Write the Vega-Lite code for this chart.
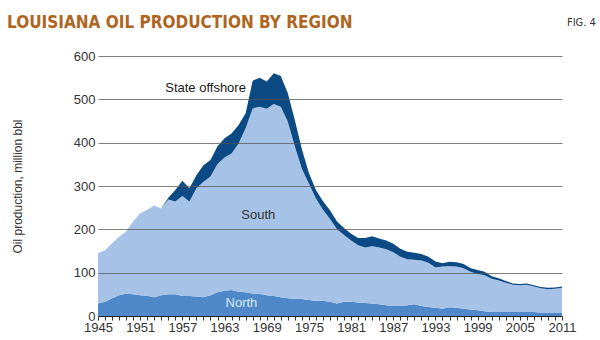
{
  "$schema": "https://vega.github.io/schema/vega-lite/v6.json",
  "width": 464,
  "height": 260,
  "autosize": {"type": "none"},
  "padding": {"left": 98, "top": 56, "right": 38, "bottom": 24},
  "background": "white",
  "title": {
    "text": "LOUISIANA OIL PRODUCTION BY REGION",
    "anchor": "start",
    "frame": "group",
    "font": "DejaVu Sans Condensed",
    "fontWeight": "bold",
    "fontSize": 17,
    "color": "#b0651f",
    "baseline": "alphabetic",
    "dx": -91,
    "offset": -28
  },
  "config": {
    "view": {"stroke": null},
    "axis": {"labelFont": "Liberation Sans", "titleFont": "Liberation Sans", "labelColor": "#333", "titleColor": "#333"},
    "axisX": {"labelOverlap": false}
  },
  "resolve": {"scale": {"color": "independent"}},
  "datasets": {
    "production": [
      {"year":1945,"region":"North","value":29},{"year":1945,"region":"South","value":116},{"year":1945,"region":"State offshore","value":0},
      {"year":1946,"region":"North","value":33},{"year":1946,"region":"South","value":119},{"year":1946,"region":"State offshore","value":0},
      {"year":1947,"region":"North","value":41},{"year":1947,"region":"South","value":127},{"year":1947,"region":"State offshore","value":0},
      {"year":1948,"region":"North","value":48},{"year":1948,"region":"South","value":135},{"year":1948,"region":"State offshore","value":0},
      {"year":1949,"region":"North","value":52},{"year":1949,"region":"South","value":143},{"year":1949,"region":"State offshore","value":0},
      {"year":1950,"region":"North","value":50},{"year":1950,"region":"South","value":168},{"year":1950,"region":"State offshore","value":0},
      {"year":1951,"region":"North","value":48},{"year":1951,"region":"South","value":189},{"year":1951,"region":"State offshore","value":0},
      {"year":1952,"region":"North","value":47},{"year":1952,"region":"South","value":198},{"year":1952,"region":"State offshore","value":0},
      {"year":1953,"region":"North","value":43},{"year":1953,"region":"South","value":212},{"year":1953,"region":"State offshore","value":0},
      {"year":1954,"region":"North","value":48},{"year":1954,"region":"South","value":200},{"year":1954,"region":"State offshore","value":0},
      {"year":1955,"region":"North","value":50},{"year":1955,"region":"South","value":219},{"year":1955,"region":"State offshore","value":4},
      {"year":1956,"region":"North","value":50},{"year":1956,"region":"South","value":214},{"year":1956,"region":"State offshore","value":27},
      {"year":1957,"region":"North","value":46},{"year":1957,"region":"South","value":231},{"year":1957,"region":"State offshore","value":35},
      {"year":1958,"region":"North","value":46},{"year":1958,"region":"South","value":218},{"year":1958,"region":"State offshore","value":31},
      {"year":1959,"region":"North","value":45},{"year":1959,"region":"South","value":250},{"year":1959,"region":"State offshore","value":30},
      {"year":1960,"region":"North","value":43},{"year":1960,"region":"South","value":267},{"year":1960,"region":"State offshore","value":38},
      {"year":1961,"region":"North","value":48},{"year":1961,"region":"South","value":274},{"year":1961,"region":"State offshore","value":38},
      {"year":1962,"region":"North","value":55},{"year":1962,"region":"South","value":296},{"year":1962,"region":"State offshore","value":41},
      {"year":1963,"region":"North","value":58},{"year":1963,"region":"South","value":308},{"year":1963,"region":"State offshore","value":44},
      {"year":1964,"region":"North","value":60},{"year":1964,"region":"South","value":315},{"year":1964,"region":"State offshore","value":46},
      {"year":1965,"region":"North","value":56},{"year":1965,"region":"South","value":342},{"year":1965,"region":"State offshore","value":43},
      {"year":1966,"region":"North","value":55},{"year":1966,"region":"South","value":378},{"year":1966,"region":"State offshore","value":35},
      {"year":1967,"region":"North","value":52},{"year":1967,"region":"South","value":427},{"year":1967,"region":"State offshore","value":64},
      {"year":1968,"region":"North","value":51},{"year":1968,"region":"South","value":432},{"year":1968,"region":"State offshore","value":67},
      {"year":1969,"region":"North","value":48},{"year":1969,"region":"South","value":430},{"year":1969,"region":"State offshore","value":63},
      {"year":1970,"region":"North","value":46},{"year":1970,"region":"South","value":443},{"year":1970,"region":"State offshore","value":71},
      {"year":1971,"region":"North","value":43},{"year":1971,"region":"South","value":440},{"year":1971,"region":"State offshore","value":71},
      {"year":1972,"region":"North","value":41},{"year":1972,"region":"South","value":407},{"year":1972,"region":"State offshore","value":66},
      {"year":1973,"region":"North","value":40},{"year":1973,"region":"South","value":351},{"year":1973,"region":"State offshore","value":61},
      {"year":1974,"region":"North","value":39},{"year":1974,"region":"South","value":301},{"year":1974,"region":"State offshore","value":45},
      {"year":1975,"region":"North","value":37},{"year":1975,"region":"South","value":268},{"year":1975,"region":"State offshore","value":25},
      {"year":1976,"region":"North","value":35},{"year":1976,"region":"South","value":236},{"year":1976,"region":"State offshore","value":20},
      {"year":1977,"region":"North","value":35},{"year":1977,"region":"South","value":210},{"year":1977,"region":"State offshore","value":20},
      {"year":1978,"region":"North","value":33},{"year":1978,"region":"South","value":191},{"year":1978,"region":"State offshore","value":20},
      {"year":1979,"region":"North","value":29},{"year":1979,"region":"South","value":171},{"year":1979,"region":"State offshore","value":18},
      {"year":1980,"region":"North","value":33},{"year":1980,"region":"South","value":154},{"year":1980,"region":"State offshore","value":16},
      {"year":1981,"region":"North","value":33},{"year":1981,"region":"South","value":141},{"year":1981,"region":"State offshore","value":16},
      {"year":1982,"region":"North","value":31},{"year":1982,"region":"South","value":132},{"year":1982,"region":"State offshore","value":17},
      {"year":1983,"region":"North","value":30},{"year":1983,"region":"South","value":128},{"year":1983,"region":"State offshore","value":22},
      {"year":1984,"region":"North","value":29},{"year":1984,"region":"South","value":132},{"year":1984,"region":"State offshore","value":23},
      {"year":1985,"region":"North","value":27},{"year":1985,"region":"South","value":131},{"year":1985,"region":"State offshore","value":21},
      {"year":1986,"region":"North","value":25},{"year":1986,"region":"South","value":129},{"year":1986,"region":"State offshore","value":20},
      {"year":1987,"region":"North","value":23},{"year":1987,"region":"South","value":124},{"year":1987,"region":"State offshore","value":20},
      {"year":1988,"region":"North","value":23},{"year":1988,"region":"South","value":114},{"year":1988,"region":"State offshore","value":18},
      {"year":1989,"region":"North","value":25},{"year":1989,"region":"South","value":106},{"year":1989,"region":"State offshore","value":17},
      {"year":1990,"region":"North","value":27},{"year":1990,"region":"South","value":103},{"year":1990,"region":"State offshore","value":16},
      {"year":1991,"region":"North","value":23},{"year":1991,"region":"South","value":105},{"year":1991,"region":"State offshore","value":15},
      {"year":1992,"region":"North","value":21},{"year":1992,"region":"South","value":102},{"year":1992,"region":"State offshore","value":14},
      {"year":1993,"region":"North","value":19},{"year":1993,"region":"South","value":93},{"year":1993,"region":"State offshore","value":14},
      {"year":1994,"region":"North","value":17},{"year":1994,"region":"South","value":97},{"year":1994,"region":"State offshore","value":8},
      {"year":1995,"region":"North","value":20},{"year":1995,"region":"South","value":95},{"year":1995,"region":"State offshore","value":10},
      {"year":1996,"region":"North","value":19},{"year":1996,"region":"South","value":95},{"year":1996,"region":"State offshore","value":10},
      {"year":1997,"region":"North","value":17},{"year":1997,"region":"South","value":93},{"year":1997,"region":"State offshore","value":10},
      {"year":1998,"region":"North","value":15},{"year":1998,"region":"South","value":87},{"year":1998,"region":"State offshore","value":8},
      {"year":1999,"region":"North","value":13},{"year":1999,"region":"South","value":84},{"year":1999,"region":"State offshore","value":9},
      {"year":2000,"region":"North","value":11},{"year":2000,"region":"South","value":83},{"year":2000,"region":"State offshore","value":8},
      {"year":2001,"region":"North","value":9},{"year":2001,"region":"South","value":77},{"year":2001,"region":"State offshore","value":6},
      {"year":2002,"region":"North","value":9},{"year":2002,"region":"South","value":73},{"year":2002,"region":"State offshore","value":5},
      {"year":2003,"region":"North","value":9},{"year":2003,"region":"South","value":68},{"year":2003,"region":"State offshore","value":4},
      {"year":2004,"region":"North","value":9},{"year":2004,"region":"South","value":63},{"year":2004,"region":"State offshore","value":3},
      {"year":2005,"region":"North","value":9},{"year":2005,"region":"South","value":62},{"year":2005,"region":"State offshore","value":3},
      {"year":2006,"region":"North","value":9},{"year":2006,"region":"South","value":63},{"year":2006,"region":"State offshore","value":3},
      {"year":2007,"region":"North","value":9},{"year":2007,"region":"South","value":59},{"year":2007,"region":"State offshore","value":3},
      {"year":2008,"region":"North","value":8},{"year":2008,"region":"South","value":56},{"year":2008,"region":"State offshore","value":3},
      {"year":2009,"region":"North","value":8},{"year":2009,"region":"South","value":54},{"year":2009,"region":"State offshore","value":3},
      {"year":2010,"region":"North","value":8},{"year":2010,"region":"South","value":55},{"year":2010,"region":"State offshore","value":3},
      {"year":2011,"region":"North","value":8},{"year":2011,"region":"South","value":57},{"year":2011,"region":"State offshore","value":3}
    ],
    "labels": [
      {"label":"State offshore","year":1960.3,"value":526},
      {"label":"South","year":1967.8,"value":233},
      {"label":"North","year":1965.4,"value":30}
    ],
    "fig": [{"label": "FIG. 4", "year": 2011, "value": 600}]
  },
  "encoding": {
    "x": {
      "field": "year", "type": "quantitative",
      "scale": {"domain": [1945, 2011], "nice": false, "zero": false},
      "axis": {
        "title": null,
        "values": [1945,1946,1947,1948,1949,1950,1951,1952,1953,1954,1955,1956,1957,1958,1959,1960,1961,1962,1963,1964,1965,1966,1967,1968,1969,1970,1971,1972,1973,1974,1975,1976,1977,1978,1979,1980,1981,1982,1983,1984,1985,1986,1987,1988,1989,1990,1991,1992,1993,1994,1995,1996,1997,1998,1999,2000,2001,2002,2003,2004,2005,2006,2007,2008,2009,2010,2011],
        "format": "d",
        "labelExpr": "(datum.value - 1945) % 6 == 0 ? datum.label : ''",
        "labelOverlap": false,
        "labelFontSize": 13,
        "labelPadding": 1,
        "labelFlush": false,
        "grid": false,
        "domainColor": "#222",
        "tickColor": "#333",
        "tickSize": 4,
        "zindex": 2
      }
    }
  },
  "layer": [
    {
      "data": {"name": "production"},
      "mark": {"type": "area", "interpolate": "linear"},
      "encoding": {
        "y": {
          "field": "value", "type": "quantitative", "stack": "zero",
          "scale": {"domain": [0, 600], "nice": false},
          "axis": {
            "title": "Oil production, million bbl",
            "titleFontSize": 12,
            "titleFontWeight": "normal",
            "titlePadding": 49,
            "values": [0,100,200,300,400,500,600],
            "labelFontSize": 13,
            "labelPadding": 3,
            "ticks": false,
            "domain": false,
            "grid": true,
            "gridColor": "#555",
            "gridOpacity": 0.75,
            "zindex": 1
          }
        },
        "color": {
          "field": "region", "type": "nominal",
          "scale": {"domain": ["North", "South", "State offshore"], "range": ["#4f88c9", "#a6c3e7", "#0b4a85"]},
          "legend": null
        },
        "order": {"field": "region", "sort": "ascending"}
      }
    },
    {
      "data": {"name": "labels"},
      "mark": {"type": "text", "font": "Liberation Sans", "fontSize": 13, "baseline": "middle", "align": "center"},
      "encoding": {
        "y": {"field": "value", "type": "quantitative"},
        "text": {"field": "label"},
        "color": {
          "field": "label", "type": "nominal",
          "scale": {"domain": ["North", "South", "State offshore"], "range": ["#dce8f6", "#333333", "#1a1a1a"]},
          "legend": null
        }
      }
    },
    {
      "data": {"name": "fig"},
      "mark": {"type": "text", "font": "DejaVu Sans Condensed", "fontSize": 11, "align": "left", "baseline": "middle", "dx": 5, "dy": -33, "color": "#333"},
      "encoding": {
        "y": {"field": "value", "type": "quantitative"},
        "text": {"field": "label"}
      }
    }
  ]
}
